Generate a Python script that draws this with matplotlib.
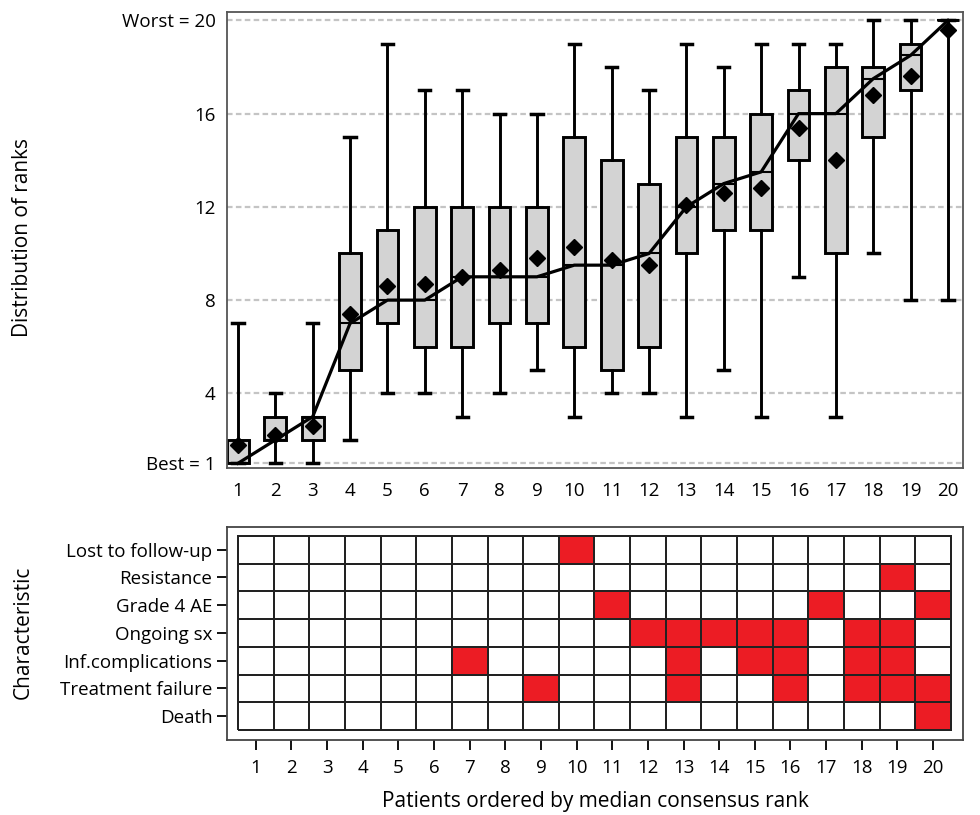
import numpy as np
import matplotlib
matplotlib.use("Agg")
import matplotlib.pyplot as plt
from matplotlib.colors import ListedColormap

plt.rcParams['font.family'] = ['Open Sans', 'DejaVu Sans']

# rank distribution per patient (ordered by median consensus rank)
patients = list(range(1, 21))
medians = [1, 2, 3, 7, 8, 8, 9, 9, 9, 9.5, 9.5, 10, 12, 13, 13.5, 16, 16, 17.5, 18.5, 20]
q1 = [1, 2, 2, 5, 7, 6, 6, 7, 7, 6, 5, 6, 10, 11, 11, 14, 10, 15, 17, 20]
q3 = [2, 3, 3, 10, 11, 12, 12, 12, 12, 15, 14, 13, 15, 15, 16, 17, 18, 18, 19, 20]
whis_lo = [1, 1, 1, 2, 4, 4, 3, 4, 5, 3, 4, 4, 3, 5, 3, 9, 3, 10, 8, 8]
whis_hi = [7, 4, 7, 15, 19, 17, 17, 16, 16, 19, 18, 17, 19, 18, 19, 19, 19, 20, 20, 20]
means = [1.8, 2.2, 2.6, 7.4, 8.6, 8.7, 9.0, 9.3, 9.8, 10.3, 9.7, 9.5, 12.1, 12.6,
         12.8, 15.4, 14.0, 16.8, 17.6, 19.6]

rank_ticks = [1, 4, 8, 12, 16, 20]
rank_labels = ['Best = 1', '4', '8', '12', '16', 'Worst = 20']

# characteristics (bottom to top) and the patients having them
characteristics = ['Death', 'Treatment failure', 'Inf.complications', 'Ongoing sx',
                   'Grade 4 AE', 'Resistance', 'Lost to follow-up']
death = [20]
treatment_failure = [9, 13, 16, 18, 19, 20]
inf_complications = [7, 13, 15, 16, 18, 19]
ongoing_sx = [12, 13, 14, 15, 16, 18, 19]
grade4_ae = [11, 17, 20]
resistance = [19]
lost_followup = [10]

fig = plt.figure(figsize=(9.8, 8.15), dpi=100)
ax1 = fig.add_axes([0.2316, 0.4258, 0.7510, 0.5595])
ax2 = fig.add_axes([0.2316, 0.0920, 0.7510, 0.2614])

# ---- top: boxplots
stats = []
for i in range(len(patients)):
    stats.append(dict(med=medians[i], q1=q1[i], q3=q3[i], whislo=whis_lo[i],
                      whishi=whis_hi[i], mean=means[i], fliers=[]))

for y in rank_ticks:
    ax1.axhline(y, color='#c4c4c4', lw=1.6, ls=(0, (2.5, 1.5)), zorder=0)

ax1.bxp(stats, positions=patients, widths=0.58, showmeans=True, patch_artist=True,
        boxprops=dict(facecolor='#d3d3d3', edgecolor='black', linewidth=2.1),
        whiskerprops=dict(color='black', linewidth=2.1),
        capprops=dict(color='black', linewidth=2.5),
        capwidths=0.3,
        medianprops=dict(color='black', linewidth=1.5),
        meanprops=dict(marker='D', markerfacecolor='black', markeredgecolor='black',
                       markersize=8))
ax1.plot(patients, medians, color='black', lw=2.3, zorder=5)

ax1.set_xlim(0.706, 20.4)
ax1.set_ylim(0.8, 20.36)
ax1.set_xticks(patients)
ax1.set_xticklabels([str(p) for p in patients])
ax1.set_yticks(rank_ticks)
ax1.set_yticklabels(rank_labels)
ax1.tick_params(axis='both', length=0, labelsize=13.5)
ax1.tick_params(axis='x', pad=10)
ax1.tick_params(axis='y', pad=8)
for s in ax1.spines.values():
    s.set_color('#555555')
    s.set_linewidth(1.3)
ax1.set_ylabel('Distribution of ranks', fontsize=15)
ax1.yaxis.set_label_coords(0.034, 0.708, transform=fig.transFigure)

# ---- bottom: characteristic grid
rows = [death, treatment_failure, inf_complications, ongoing_sx,
        grade4_ae, resistance, lost_followup]
grid = np.zeros((len(characteristics), len(patients)))
for r, members in enumerate(rows):
    for p in members:
        grid[r, p - 1] = 1

xe = np.arange(0.5, 21.5, 1)
ye = np.arange(-0.5, 7.5, 1)
ax2.pcolormesh(xe, ye, grid, cmap=ListedColormap(['white', '#ec1c24']),
               edgecolors='#222222', linewidth=1.3, vmin=0, vmax=1)
ax2.set_xlim(0.19, 20.84)
ax2.set_ylim(-0.86, 6.82)
ax2.set_xticks(patients)
ax2.set_xticklabels([str(p) for p in patients])
ax2.set_yticks(range(len(characteristics)))
ax2.set_yticklabels(characteristics)
ax2.tick_params(axis='both', length=7, width=1.3, labelsize=13.5)
ax2.tick_params(axis='x', pad=7)
for s in ax2.spines.values():
    s.set_color('#444444')
    s.set_linewidth(1.3)
ax2.set_ylabel('Characteristic', fontsize=15)
ax2.yaxis.set_label_coords(0.034, 0.224, transform=fig.transFigure)
ax2.set_xlabel('Patients ordered by median consensus rank', fontsize=15, labelpad=10)

fig.savefig('out.png', dpi=100)
